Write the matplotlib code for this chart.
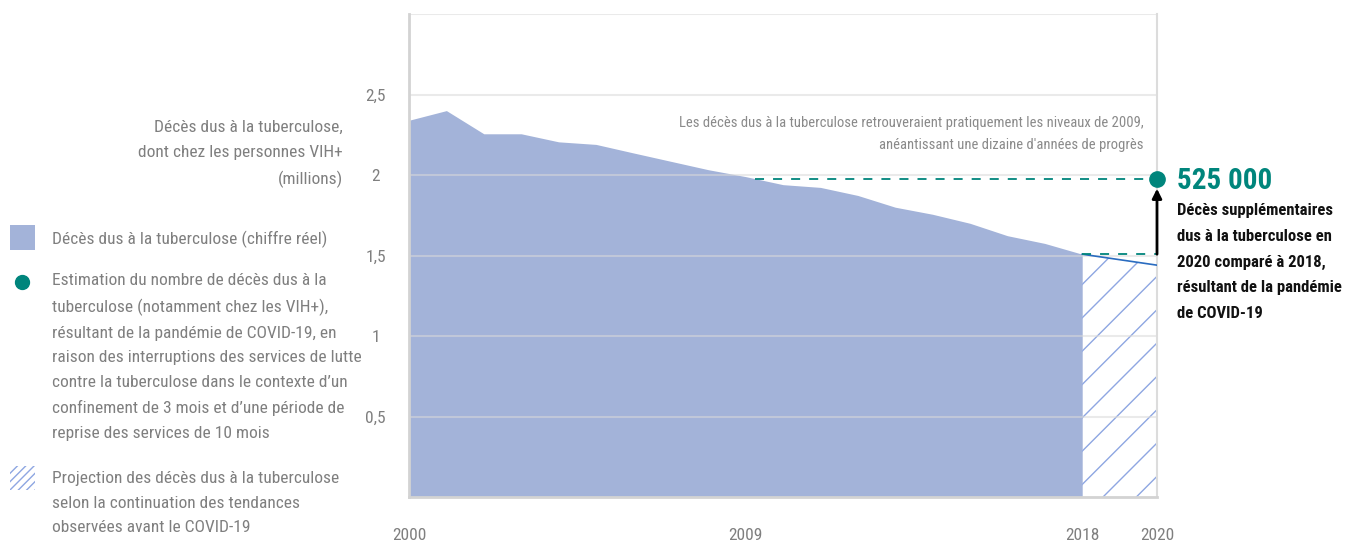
import matplotlib.pyplot as plt
import matplotlib.patches as mpatches
from matplotlib import font_manager

# police étroite si disponible
installed = {f.name for f in font_manager.fontManager.ttflist}
condensed = [f.name for f in font_manager.fontManager.ttflist
             if f.stretch in ('condensed', 'semi-condensed', 'extra-condensed')]
FONT = 'Liberation Sans'
for cand in ['Liberation Sans Narrow', 'Roboto Condensed', 'Open Sans Condensed',
             'Noto Sans Condensed', 'DejaVu Sans Condensed']:
    if cand in installed:
        FONT = cand
        break
STRETCH = 'normal'
if FONT == 'Liberation Sans' and condensed:
    FONT = condensed[0]
    STRETCH = 'condensed'
plt.rcParams['font.family'] = [FONT, 'DejaVu Sans']
plt.rcParams['font.stretch'] = STRETCH
fs = 12.5 if STRETCH == 'condensed' or FONT != 'Liberation Sans' else 11.5

# données (millions de décès)
years = [2000, 2001, 2002, 2003, 2004, 2005, 2006, 2007, 2008, 2009,
         2010, 2011, 2012, 2013, 2014, 2015, 2016, 2017, 2018]
deaths = [2.34, 2.40, 2.256, 2.256, 2.206, 2.19, 2.137, 2.085, 2.033, 1.99,
          1.94, 1.923, 1.873, 1.80, 1.756, 1.70, 1.623, 1.575, 1.508]
proj_years = [2018, 2020]
proj_deaths = [1.508, 1.44]
covid_year = 2020
covid_deaths = 1.975
ref_2009 = 2009.25

y_ticks = [0.5, 1, 1.5, 2, 2.5]
y_labels = ['0,5', '1', '1,5', '2', '2,5']
x_ticks = [2000, 2009, 2018, 2020]

AREA = '#a3b3d9'
TEAL = '#00857c'
GREY = '#7f7f7f'
LS = 1.8

fig = plt.figure(figsize=(13.46, 5.43), dpi=100)
ax = fig.add_axes([409 / 1346, 1 - 497 / 543, 748 / 1346, 483 / 543])

# zone réelle
ax.fill_between(years, deaths, 0, color=AREA, lw=0, zorder=1)

# projection hachurée
plt.rcParams['hatch.linewidth'] = 1.0
ax.fill_between(proj_years, proj_deaths, 0, facecolor='none',
                edgecolor='#8ea6e2', hatch='/', lw=0, zorder=1)
ax.plot(proj_years, proj_deaths, color='#2a6cc0', lw=1.2, zorder=3)

# lignes de grille
for v in y_ticks + [3.0]:
    ax.axhline(v, color='#d9d9d9', lw=1.5, alpha=0.55, zorder=2)

# lignes pointillées
ax.plot([ref_2009, covid_year], [covid_deaths, covid_deaths], color=TEAL,
        lw=1.3, ls=(0, (5, 5)), zorder=4)
ax.plot([proj_years[0], covid_year], [proj_deaths[0], proj_deaths[0]],
        color=TEAL, lw=1.3, ls=(0, (5, 5)), zorder=4)

# flèche + point
ax.annotate('', xy=(covid_year, covid_deaths - 0.06),
            xytext=(covid_year, proj_deaths[0]),
            arrowprops=dict(arrowstyle='-|>', color='black', lw=2,
                            mutation_scale=14, shrinkA=0, shrinkB=0),
            zorder=5)
ax.plot([covid_year], [covid_deaths], 'o', color=TEAL, ms=11,
        zorder=6, clip_on=False)

ax.set_xlim(2000, 2020)
ax.set_ylim(0, 3.0)
ax.set_yticks(y_ticks)
ax.set_yticklabels(y_labels)
ax.set_xticks(x_ticks)
ax.tick_params(length=0, labelsize=fs, colors=GREY, pad=22)
ax.tick_params(axis='y', pad=24)
for lab in ax.get_yticklabels():
    lab.set_horizontalalignment('center')
ax.spines['top'].set_visible(False)
ax.spines['left'].set_color('#d3d3d3')
ax.spines['left'].set_linewidth(2)
ax.spines['bottom'].set_color('#d3d3d3')
ax.spines['bottom'].set_linewidth(2)
ax.spines['right'].set_color('#dcdcdc')
ax.spines['right'].set_linewidth(1.5)

# annotation dans le graphique
ax.text(2019.65, 2.365,
        "Les décès dus à la tuberculose retrouveraient pratiquement les niveaux de 2009,\n"
        "anéantissant une dizaine d'années de progrès",
        ha='right', va='top', fontsize=fs - 2, color='#8a8a8a', linespacing=1.75)

# bloc à droite
fig.text(1177 / 1346, 1 - 181 / 543, '525 000', fontsize=21, fontweight='bold',
         color=TEAL, ha='left', va='center')
fig.text(1177 / 1346, 1 - 203 / 543,
         'Décès supplémentaires\ndus à la tuberculose en\n2020 comparé à 2018,\n'
         'résultant de la pandémie\nde COVID-19',
         fontsize=fs - 0.5, fontweight='bold', color='#111111', ha='left', va='top',
         linespacing=1.9)

# titre de l'axe y
fig.text(343 / 1346, 1 - 120 / 543,
         'Décès dus à la tuberculose,\ndont chez les personnes VIH+\n(millions)',
         fontsize=fs, color=GREY, ha='right', va='top', linespacing=LS)

# légende
fig.add_artist(mpatches.Rectangle((10 / 1346, 1 - 250 / 543), 25 / 1346, 25 / 543,
                                  transform=fig.transFigure, color=AREA, lw=0))
fig.text(52 / 1346, 1 - 239 / 543, 'Décès dus à la tuberculose (chiffre réel)',
         fontsize=fs, color=GREY, ha='left', va='center')

fig.add_artist(plt.Line2D([22 / 1346], [1 - 282 / 543], marker='o', ms=10,
                          color=TEAL, transform=fig.transFigure))
fig.text(52 / 1346, 1 - 273 / 543,
         "Estimation du nombre de décès dus à la\ntuberculose (notamment chez les VIH+),\n"
         "résultant de la pandémie de COVID-19, en\nraison des interruptions des services de lutte\n"
         "contre la tuberculose dans le contexte d’un\nconfinement de 3 mois et d’une période de\n"
         "reprise des services de 10 mois",
         fontsize=fs, color=GREY, ha='left', va='top', linespacing=LS)

fig.add_artist(mpatches.Rectangle((10 / 1346, 1 - 490 / 543), 25 / 1346, 24 / 543,
                                  transform=fig.transFigure, facecolor='none',
                                  edgecolor='#8ea6e2', hatch='////', lw=0))
fig.text(52 / 1346, 1 - 471 / 543,
         'Projection des décès dus à la tuberculose\nselon la continuation des tendances\n'
         'observées avant le COVID-19',
         fontsize=fs, color=GREY, ha='left', va='top', linespacing=LS)

fig.savefig('out.png', dpi=100)
